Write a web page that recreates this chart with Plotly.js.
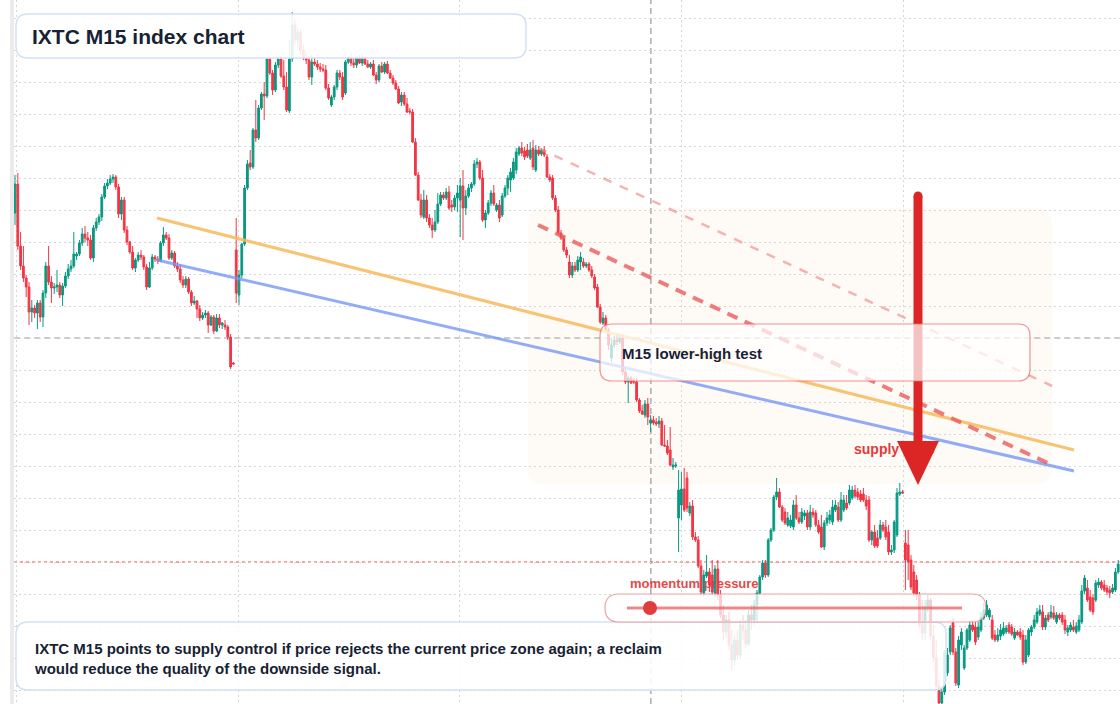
<!DOCTYPE html>
<html>
<head>
<meta charset="utf-8">
<script src="https://cdn.plot.ly/plotly-3.0.1.min.js"></script>
<style>
  html, body { margin: 0; padding: 0; background: #ffffff; }
  #chart { width: 1120px; height: 704px; }
</style>
</head>
<body>
<div id="chart"></div>
<script>
// ---------------- DATA (IXTC, M15 candles, index points) ----------------
const open = [
  787,816,754,734,722,713,688,692,687,697,
  683,707,734,718,712,713,715,705,714,724,
  731,734,744,746,757,766,762,760,742,772,
  778,783,803,814,817,821,823,813,786,800,
  770,758,748,732,740,745,743,733,713,732,
  743,741,739,757,765,762,742,747,734,731,
  720,715,721,708,697,699,691,682,685,687,
  675,683,669,682,675,675,673,663,637,750,
  705,725,756,812,837,833,870,862,892,906,
  904,941,927,910,935,941,924,913,889,941,
  975,960,968,950,942,940,923,938,936,933,
  931,930,912,895,903,913,927,923,907,938,
  942,937,935,942,937,943,936,933,936,925,
  920,934,928,936,927,922,917,911,898,905,
  896,889,888,858,825,800,783,800,782,775,
  770,778,796,805,802,808,795,793,802,800,
  814,792,804,812,816,836,838,822,780,787,
  797,807,790,795,785,804,812,820,822,830,
  846,852,849,850,842,852,830,850,846,850,
  843,823,822,802,790,767,762,750,738,725,
  734,730,738,738,734,736,730,723,713,693,
  677,682,670,642,655,660,658,662,628,618,
  622,619,618,600,589,585,596,577,580,578,
  576,579,555,554,550,533,534,482,495,511,
  522,487,494,463,460,434,407,424,428,425,
  407,431,405,385,368,380,355,340,360,345,
  375,370,356,385,380,395,407,423,437,425,
  460,470,503,508,493,488,475,474,473,495,
  482,478,484,487,473,488,487,475,473,453,
  477,480,478,490,493,480,490,497,497,502,
  510,508,506,506,500,500,460,468,462,462,
  475,473,468,448,450,465,506,508,457,455,
  440,428,420,405,375,367,393,400,364,342,
  314,297,308,327,348,377,348,315,355,332,
  352,360,375,373,363,370,382,385,383,380,
  365,360,364,366,368,375,373,362,368,368,
  365,338,345,368,373,378,386,388,373,385,
  383,387,378,385,385,380,368,370,373,368,
  370,378,409,412,403,402,400,415,418,415,
  412,410,408,410,428
];
const high = [
  825,827,768,754,725,718,700,695,700,700,
  710,738,754,724,717,730,718,717,728,736,
  740,768,748,760,772,774,768,765,775,782,
  786,806,817,821,825,826,825,816,803,803,
  774,759,754,742,748,750,745,736,738,746,
  745,744,759,773,768,766,750,749,738,736,
  724,724,723,710,704,700,695,688,690,689,
  685,685,686,686,678,680,675,666,638,782,
  730,757,815,840,850,872,900,895,908,918,
  943,944,930,938,943,944,940,928,960,988,
  980,972,970,955,948,944,945,942,940,937,
  936,935,916,905,915,930,930,928,940,944,
  948,942,944,945,946,945,940,938,940,928,
  936,938,938,939,930,925,920,914,908,908,
  902,892,891,862,828,806,810,805,786,782,
  790,807,808,808,812,814,800,805,815,822,
  830,810,816,818,840,842,840,830,790,800,
  810,815,797,800,807,815,825,832,842,852,
  854,858,853,856,858,860,855,854,852,854,
  846,826,825,805,794,770,765,753,745,738,
  738,744,748,742,738,738,734,726,716,696,
  688,685,672,662,664,667,665,665,632,624,
  624,622,622,602,595,600,602,585,584,582,
  584,582,575,560,573,542,538,530,528,532,
  528,498,500,468,464,440,430,445,432,440,
  435,440,410,395,385,388,370,365,370,380,
  385,380,390,395,400,410,425,440,440,462,
  472,505,522,512,495,492,488,485,500,505,
  488,492,490,490,495,492,490,480,485,480,
  488,490,500,500,498,508,505,505,515,514,
  515,512,510,512,505,504,470,475,470,480,
  478,480,475,455,480,512,517,510,470,470,
  445,435,425,408,400,400,405,402,375,360,
  320,312,350,352,375,382,352,364,372,355,
  372,380,380,378,378,388,397,400,392,385,
  370,372,376,378,375,378,376,372,370,372,
  370,365,372,375,385,392,395,395,385,388,
  395,394,388,387,388,385,375,378,380,378,
  385,415,425,420,410,406,420,422,420,420,
  415,414,416,432,440
];
const low = [
  775,750,730,718,703,675,678,682,671,678,
  673,702,715,697,706,708,702,694,712,721,
  728,732,740,744,754,758,754,740,738,769,
  775,779,801,811,815,817,810,782,780,767,
  755,746,730,728,738,740,730,710,712,730,
  738,736,738,754,760,740,740,732,728,717,
  712,712,706,694,695,682,679,680,682,667,
  674,666,668,672,671,670,660,631,635,697,
  695,722,754,810,830,831,858,860,890,880,
  902,925,905,908,932,922,910,888,887,938,
  955,952,945,940,936,920,915,934,930,928,
  928,910,900,893,900,910,920,900,905,936,
  934,932,932,936,934,935,932,931,924,916,
  918,927,926,926,921,915,910,896,894,894,
  887,886,857,824,799,782,781,778,772,762,
  768,776,794,800,800,790,788,790,788,763,
  760,785,802,808,814,832,820,778,772,785,
  794,794,788,778,783,802,805,808,820,826,
  844,844,840,842,840,830,828,844,844,843,
  822,818,800,788,765,760,748,742,722,722,
  728,728,730,732,732,728,722,710,692,676,
  675,668,650,638,652,655,656,625,616,597,
  616,616,598,587,585,582,575,568,575,574,
  572,554,553,545,534,530,532,448,480,488,
  488,484,460,458,432,405,404,422,408,405,
  403,400,382,360,362,350,330,335,340,342,
  360,352,354,370,375,378,405,420,422,423,
  458,468,500,492,478,475,473,472,470,480,
  476,476,480,470,470,482,473,466,452,450,
  474,476,475,488,478,478,488,490,495,500,
  502,500,498,498,490,458,455,452,452,460,
  468,460,445,445,447,463,504,506,410,420,
  410,404,400,372,360,360,388,360,338,310,
  294,294,305,324,345,345,314,312,350,330,
  350,358,368,355,360,368,380,383,380,360,
  358,358,360,364,366,366,364,360,364,360,
  335,336,343,364,371,376,384,370,370,378,
  381,380,376,380,375,366,364,368,368,366,
  368,376,406,398,388,385,398,412,410,408,
  405,402,406,408,426
];
const close = [
  816,754,734,722,713,688,692,687,697,683,
  707,734,718,712,713,715,705,714,724,731,
  734,746,746,757,766,762,760,742,772,778,
  783,803,814,817,821,823,813,786,800,770,
  758,748,732,740,745,743,733,713,732,743,
  741,739,757,765,762,742,747,734,731,720,
  715,721,708,697,699,691,682,685,687,675,
  683,669,682,675,677,673,663,633,636,707,
  725,756,812,836,833,870,862,892,906,904,
  941,927,910,935,941,924,913,890,941,975,
  960,968,950,942,940,923,938,936,933,931,
  930,912,902,903,913,927,923,903,938,942,
  937,935,942,937,943,936,933,936,925,920,
  934,928,936,927,922,917,911,897,905,896,
  888,888,858,825,800,785,800,782,775,770,
  778,796,805,802,808,792,793,802,807,814,
  792,804,812,816,836,838,822,780,787,797,
  807,796,795,782,804,812,822,828,838,848,
  852,847,843,844,850,833,850,846,850,845,
  823,820,802,790,767,762,750,745,725,734,
  730,740,743,734,736,730,724,712,693,678,
  682,670,655,655,660,658,662,628,618,622,
  617,618,600,589,586,596,583,580,577,576,
  579,555,554,547,535,535,535,510,511,490,
  492,494,463,460,434,408,425,428,415,408,
  431,405,385,368,380,355,340,360,345,375,
  370,356,385,380,395,407,423,437,425,460,
  470,503,508,493,480,477,482,480,495,482,
  478,488,487,473,488,485,475,468,453,477,
  482,485,493,495,480,500,500,492,510,510,
  504,503,500,500,494,460,468,454,454,475,
  470,463,448,450,478,507,508,507,440,438,
  413,407,405,375,367,393,400,364,342,314,
  297,308,348,345,372,348,317,360,368,352,
  370,375,370,358,373,383,390,395,390,362,
  360,365,370,372,372,368,366,368,365,363,
  338,360,370,373,380,388,390,373,382,380,
  388,382,385,382,378,370,372,375,370,374,
  380,409,422,400,390,388,417,418,412,410,
  408,407,412,428,436
];
const candleIndex = close.map((_, i) => i);

// reference levels / overlay values (index points, candle index)
const currentPrice = 438;
const crosshairPrice = 662;
const crosshairCandle = 227.1;
const orangeTrend = { x: [50.7, 378.2], y: [782, 550] };
const blueTrend   = { x: [50.7, 378.2], y: [740, 529] };
const redDashTrend   = { x: [186.8, 371.1], y: [775, 534] };
const lightDashTrend = { x: [186.8, 370.4], y: [852, 614] };

const titleText = 'IXTC M15 index chart';
const noteText = 'IXTC M15 points to supply control if price rejects the current price zone again; a reclaim<br>would reduce the quality of the downside signal.';
const testText = 'M15 lower-high test';
const supplyText = 'supply zone';
const momentumText = 'momentum pressure';

// ---------------- LAYOUT HELPERS ----------------
const PL = 14, PW = 1106, PH = 704;
const FONT = 'Liberation Sans, Arial, Helvetica, sans-serif';
const fx = p => (p - PL) / PW;
const fy = p => 1 - p / PH;
function roundBox(x0, y0, x1, y1, r) {
  const rx = r / PW, ry = r / PH;
  const X0 = fx(x0), X1 = fx(x1), Y0 = fy(y0), Y1 = fy(y1);
  const n = v => v.toFixed(5);
  return `M ${n(X0 + rx)},${n(Y0)} L ${n(X1 - rx)},${n(Y0)} Q ${n(X1)},${n(Y0)} ${n(X1)},${n(Y0 - ry)} ` +
         `L ${n(X1)},${n(Y1 + ry)} Q ${n(X1)},${n(Y1)} ${n(X1 - rx)},${n(Y1)} ` +
         `L ${n(X0 + rx)},${n(Y1)} Q ${n(X0)},${n(Y1)} ${n(X0)},${n(Y1 + ry)} ` +
         `L ${n(X0)},${n(Y0 - ry)} Q ${n(X0)},${n(Y0)} ${n(X0 + rx)},${n(Y0)} Z`;
}
function boxShape(x0, y0, x1, y1, r, fill, lineColor, lineWidth, layer) {
  return { type: 'path', xref: 'paper', yref: 'paper', path: roundBox(x0, y0, x1, y1, r),
           fillcolor: fill, line: { color: lineColor, width: lineWidth }, layer: layer || 'above' };
}
function pxToCandle(p) { return (p - 15) / 2.8; }
function pxToPrice(p) { return 1000 - p; }

const shapes = [
  // left edge strip
  { type: 'rect', xref: 'paper', yref: 'paper', x0: -4 / PW, x1: 0, y0: 0, y1: 1,
    fillcolor: '#ebebeb', line: { width: 0 }, layer: 'above' },
  // faint zone
  boxShape(528, 208, 1052, 484, 16, 'rgba(252,230,214,0.22)', 'rgba(0,0,0,0)', 0, 'below'),
  // crosshair
  { type: 'line', xref: 'x', yref: 'paper', x0: crosshairCandle, x1: crosshairCandle, y0: 0, y1: 1,
    line: { color: '#9a9a9a', width: 1.2, dash: '6px,4px' }, layer: 'below' },
  { type: 'line', xref: 'paper', yref: 'y', x0: 0, x1: 1, y0: crosshairPrice, y1: crosshairPrice,
    line: { color: '#9a9a9a', width: 1.2, dash: '6px,4px' }, layer: 'below' },
  // current price line
  { type: 'line', xref: 'paper', yref: 'y', x0: 0, x1: 1, y0: currentPrice, y1: currentPrice,
    line: { color: '#ef4444', width: 1.2, dash: 'dot' }, layer: 'below' },
  // momentum label (under candles)
  { type: 'rect', xref: 'paper', yref: 'paper', x0: fx(624), x1: fx(790), y0: fy(592), y1: fy(572),
    line: { width: 0 }, fillcolor: 'rgba(0,0,0,0)', layer: 'below',
    label: { text: '<b>' + momentumText + '</b>', textposition: 'middle left', padding: 3,
             font: { size: 13, color: '#e24a4a', family: FONT } } },
  // trend lines
  { type: 'line', xref: 'x', yref: 'y', x0: orangeTrend.x[0], x1: orangeTrend.x[1], y0: orangeTrend.y[0], y1: orangeTrend.y[1],
    line: { color: 'rgba(247,186,90,0.85)', width: 3.2 }, layer: 'above' },
  { type: 'line', xref: 'x', yref: 'y', x0: blueTrend.x[0], x1: blueTrend.x[1], y0: blueTrend.y[0], y1: blueTrend.y[1],
    line: { color: 'rgba(118,153,245,0.8)', width: 3 }, layer: 'above' },
  { type: 'line', xref: 'x', yref: 'y', x0: lightDashTrend.x[0], x1: lightDashTrend.x[1], y0: lightDashTrend.y[0], y1: lightDashTrend.y[1],
    line: { color: 'rgba(240,140,140,0.65)', width: 2.5, dash: '9px,9px' }, layer: 'above' },
  { type: 'line', xref: 'x', yref: 'y', x0: redDashTrend.x[0], x1: redDashTrend.x[1], y0: redDashTrend.y[0], y1: redDashTrend.y[1],
    line: { color: 'rgba(232,92,92,0.8)', width: 4, dash: '11px,8px' }, layer: 'above' },
  // supply zone label (under the arrow)
  { type: 'rect', xref: 'paper', yref: 'paper', x0: fx(848), x1: fx(990), y0: fy(458), y1: fy(438),
    line: { width: 0 }, fillcolor: 'rgba(0,0,0,0)', layer: 'above',
    label: { text: '<b>' + supplyText + '</b>', textposition: 'middle left', padding: 3,
             font: { size: 14, color: '#e23b3b', family: FONT } } },
  // arrow
  { type: 'line', xref: 'x', yref: 'y', x0: pxToCandle(918), x1: pxToCandle(918), y0: pxToPrice(196), y1: pxToPrice(446),
    line: { color: '#dc2626', width: 9 }, layer: 'above' },
  { type: 'circle', xref: 'x', yref: 'y', x0: pxToCandle(913.5), x1: pxToCandle(922.5), y0: pxToPrice(200.5), y1: pxToPrice(191.5),
    fillcolor: '#dc2626', line: { width: 0 }, layer: 'above' },
  { type: 'path', xref: 'x', yref: 'y',
    path: `M ${pxToCandle(897)},${pxToPrice(441)} L ${pxToCandle(939)},${pxToPrice(441)} L ${pxToCandle(918)},${pxToPrice(485)} Z`,
    fillcolor: '#dc2626', line: { width: 0 }, layer: 'above' },
  // boxes
  boxShape(600, 324, 1030, 381, 12, 'rgba(255,255,255,0.72)', 'rgba(236,110,110,0.75)', 1.2),
  boxShape(16, 14, 526, 58, 12, 'rgba(255,255,255,0.88)', '#d3e1f6', 1.5),
  boxShape(16, 622, 946, 690, 12, 'rgba(255,255,255,0.86)', '#d3e1f6', 1.5),
  boxShape(605, 594, 986, 622, 14, 'rgba(255,255,255,0.74)', 'rgba(232,100,100,0.6)', 1.2),
  { type: 'line', xref: 'paper', yref: 'paper', x0: fx(627), x1: fx(962), y0: fy(608), y1: fy(608),
    line: { color: 'rgba(232,90,90,0.72)', width: 3 }, layer: 'above' },
  { type: 'circle', xref: 'paper', yref: 'paper', x0: fx(643), x1: fx(657), y0: fy(615), y1: fy(601),
    fillcolor: '#e03c3c', line: { width: 0 }, layer: 'above' }
];

const annotations = [
  { text: '<b>' + titleText + '</b>', xref: 'paper', yref: 'paper', x: fx(30), y: fy(36),
    xanchor: 'left', yanchor: 'middle', showarrow: false, align: 'left',
    font: { size: 21, color: '#172233', family: FONT } },
  { text: '<b>' + testText + '</b>', xref: 'paper', yref: 'paper', x: fx(620), y: fy(353),
    xanchor: 'left', yanchor: 'middle', showarrow: false, align: 'left',
    font: { size: 15, color: '#172233', family: FONT } },
  { text: '<b>' + noteText + '</b>', xref: 'paper', yref: 'paper', x: fx(32), y: fy(658),
    xanchor: 'left', yanchor: 'middle', showarrow: false, align: 'left',
    font: { size: 15, color: '#172233', family: FONT } }
];

const trace = {
  type: 'candlestick',
  x: candleIndex, open: open, high: high, low: low, close: close,
  increasing: { line: { color: '#089981', width: 1 }, fillcolor: '#089981' },
  decreasing: { line: { color: '#f23645', width: 1 }, fillcolor: '#f23645' },
  whiskerwidth: 0,
  hoverinfo: 'skip',
  showlegend: false
};

const layout = {
  width: 1120, height: 704,
  margin: { l: PL, r: 0, t: 0, b: 0, pad: 0 },
  paper_bgcolor: '#ffffff', plot_bgcolor: '#ffffff',
  showlegend: false,
  boxgap: 0.1,
  font: { family: FONT },
  xaxis: {
    range: [pxToCandle(14), pxToCandle(1120)],
    showticklabels: false, ticks: '', zeroline: false, showline: false,
    showgrid: true, gridcolor: '#d6d6d6', griddash: '2px,3px', gridwidth: 1,
    tick0: 0.5, dtick: 79.2,
    rangeslider: { visible: false }, fixedrange: true
  },
  yaxis: {
    range: [296, 1000],
    showticklabels: false, ticks: '', zeroline: false, showline: false,
    showgrid: true, gridcolor: '#d6d6d6', griddash: '2px,3px', gridwidth: 1,
    tick0: 982, dtick: 32, fixedrange: true
  },
  shapes: shapes,
  annotations: annotations
};

Plotly.newPlot('chart', [trace], layout, { staticPlot: true, displayModeBar: false });
</script>
</body>
</html>
